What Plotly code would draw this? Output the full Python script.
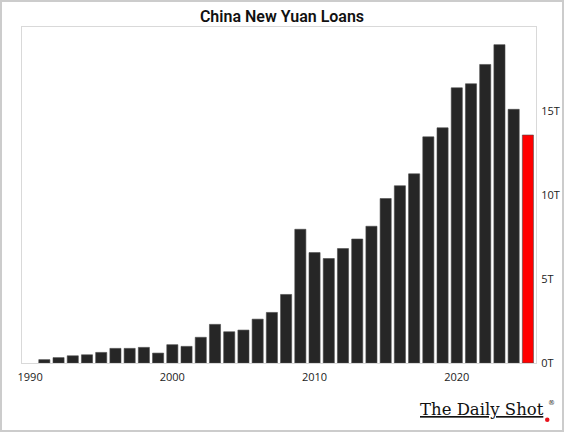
import plotly.graph_objects as go

# China new yuan loans, trillions of yuan, by year
years = list(range(1991, 2026))
loans_t = [
    0.20, 0.32, 0.43, 0.49, 0.63, 0.87, 0.87, 0.93, 0.59, 1.09,
    0.99, 1.53, 2.30, 1.86, 1.96, 2.61, 3.01, 4.08, 7.96, 6.57,
    6.22, 6.81, 7.38, 8.14, 9.79, 10.55, 11.26, 13.46, 14.00, 16.38,
    16.62, 17.77, 18.95, 15.10, 13.57,
]
y_ticks = [0, 5, 10, 15]

BAR = '#262626'
LATEST = '#ff0000'
bar_colors = [BAR] * (len(years) - 1) + [LATEST]

W, H = 564, 432
M = dict(l=22, r=28, t=27, b=69)
PW, PH = W - M['l'] - M['r'], H - M['t'] - M['b']


def px_x(x):
    return (x - M['l']) / PW


def px_y(y):
    return (H - M['b'] - y) / PH


fig = go.Figure(go.Bar(
    x=years,
    y=loans_t,
    width=0.78,
    marker=dict(color=bar_colors, line=dict(color='#4a4a4a', width=0.6)),
    hoverinfo='x+y',
))

fig.update_layout(
    width=W, height=H,
    margin=dict(M, pad=0),
    paper_bgcolor='white',
    plot_bgcolor='white',
    showlegend=False,
    font=dict(family='Open Sans', size=11, color='#222222'),
    title=dict(
        text='China New Yuan Loans',
        x=0.5, xanchor='center', y=1 - 16 / H, yanchor='middle',
        font=dict(family='Roboto', size=16, color='#111111', weight=600),
    ),
    xaxis=dict(
        range=[1989.43, 2025.57],
        tickvals=[1990, 2000, 2010, 2020],
        showgrid=False, zeroline=False, automargin=False,
        showline=True, linecolor='#d9d9d9', linewidth=1, mirror=True,
        ticks='', ticklabelstandoff=4,
    ),
    yaxis=dict(
        range=[0, 20],
        side='right',
        tickvals=y_ticks,
        ticktext=[f'{v}T' for v in y_ticks],
        showgrid=False, zeroline=False, automargin=False,
        showline=True, linecolor='#d9d9d9', linewidth=1, mirror=True,
        ticks='', ticklabelstandoff=2,
    ),
)

# outer frame of the image
fig.add_shape(
    type='rect', xref='paper', yref='paper',
    x0=px_x(1), x1=px_x(W - 1), y0=px_y(H - 1), y1=px_y(1),
    line=dict(color='#cccccc', width=2),
)

# The Daily Shot logo
fig.add_annotation(
    text='<u>The Daily Shot</u>',
    xref='paper', yref='paper',
    x=px_x(546), y=px_y(409),
    xanchor='right', yanchor='middle', showarrow=False,
    font=dict(family='DejaVu Serif', size=16.5, color='#111111'),
)
fig.add_annotation(
    text='®',
    xref='paper', yref='paper',
    x=px_x(546), y=px_y(403),
    xanchor='left', yanchor='middle', showarrow=False,
    font=dict(family='DejaVu Serif', size=7, color='#1a1a1a'),
)
fig.add_shape(
    type='circle', xref='paper', yref='paper',
    x0=px_x(545), x1=px_x(549.5), y0=px_y(422), y1=px_y(417.5),
    fillcolor='#e8121b', line=dict(width=0),
)

# drop the page's default body margin so the figure sits at the window corner
fig.write_html(
    'out.html',
    config={'displayModeBar': False},
    post_script="document.body.style.margin='0';",
)
